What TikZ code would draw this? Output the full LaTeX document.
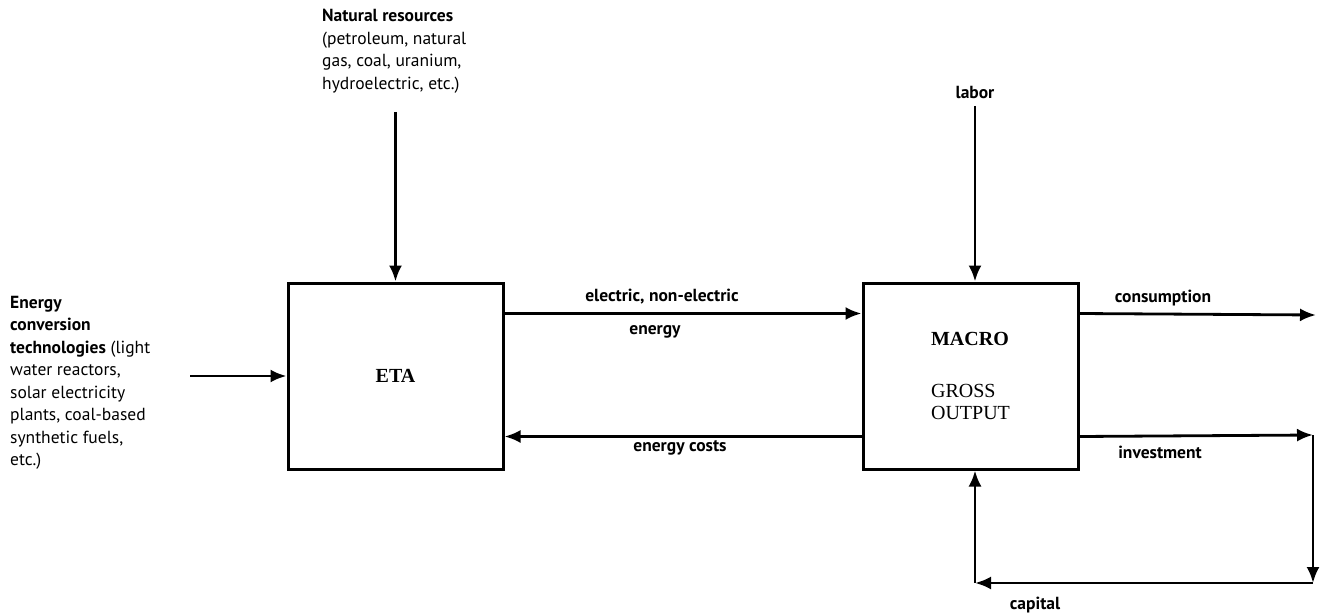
\documentclass[tikz,border=0pt]{standalone}
\usepackage{fontspec}
\setmainfont{Liberation Serif}
\newfontfamily\labelfont{PT Sans}
\usetikzlibrary{calc,positioning,arrows.meta}
\tikzset{
  block/.style={
    draw=black,
    line width=3pt,
    minimum width=215pt,
    minimum height=186pt,
    inner sep=0pt,
    align=left,
    font=\fontsize{20}{22}\selectfont
  },
  flow/.style={
    draw=black,
    line width=2.8pt,
    -{Latex[length=16pt,width=13pt]}
  },
  lbl/.style={
    inner sep=0pt,
    text=black,
    font=\labelfont\bfseries\fontsize{17.5}{20}\selectfont
  },
  source/.style={
    inner sep=0pt,
    anchor=north west,
    align=left,
    text=black,
    font=\labelfont\fontsize{17.5}{22.5}\selectfont
  }
}

\begin{document}
\begin{tikzpicture}[x=1pt,y=-1pt]
  \useasboundingbox (0,0) rectangle (1325,615);

  \node[block] (eta) at (395.5,376) {\bfseries ETA};
  \node[block] (macro) at (970.5,376) {\bfseries MACRO\\[30pt]GROSS\\OUTPUT};

  \node[source] (natres) at (322,9)
    {\textbf{Natural resources}\\(petroleum, natural\\gas, coal, uranium,\\hydroelectric, etc.)};
  \node[source] (tech) at (10,296)
    {\textbf{Energy}\\\textbf{conversion}\\\textbf{technologies} (light\\water reactors,\\solar electricity\\plants, coal-based\\synthetic fuels,\\etc.)};
  \node[lbl] (labor) at (975,92) {labor};

  \coordinate (natin) at (395.5,112);
  \coordinate (techin) at (190,376);
  \coordinate (laborin) at (975,106);
  \coordinate (consout) at (1316,315);
  \coordinate (invcorner) at (1313,435);
  \coordinate (capcorner) at (1313,583);
  \coordinate (capin) at (975,583);

  \draw[flow] (natin) -- (eta.north);
  \draw[flow] (techin) -- (eta.west);
  \draw[flow] (laborin) -- (laborin |- macro.north);

  \draw[flow] ($(eta.north east)+(0,32)$) -- ($(macro.north west)+(0,32)$);
  \draw[flow] ($(macro.south west)+(0,-34)$) -- ($(eta.south east)+(0,-34)$);
  \draw[flow] ($(macro.north east)+(0,32)$) -- (consout);
  \draw[flow] ($(macro.south east)+(0,-34)$) -- (invcorner);
  \draw[flow] (invcorner) -- (capcorner);
  \draw[flow] (capcorner) -- (capin);
  \draw[flow] (capin) -- (capin |- macro.south);

  \node[lbl] (elec) at (662,297) {electric, non-electric};
  \node[lbl] (energy) at (655,332) {energy};
  \node[lbl] (costs) at (680,448) {energy costs};
  \node[lbl] (cons) at (1163,298) {consumption};
  \node[lbl] (invest) at (1160,452) {investment};
  \node[lbl] (capital) at (1035,605) {capital};
\end{tikzpicture}
\end{document}
